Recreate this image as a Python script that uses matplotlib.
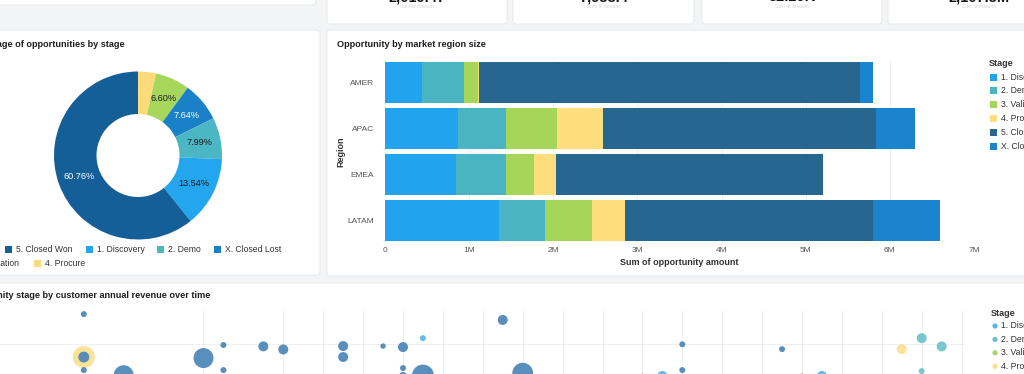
import numpy as np
import matplotlib.pyplot as plt
from matplotlib.patches import FancyBboxPatch, Rectangle, Circle

plt.rcParams['font.family'] = ['Liberation Sans', 'DejaVu Sans']

# ---- data ----
stages = ["1. Discovery", "2. Demo", "3. Validation", "4. Procure", "5. Closed Won", "X. Closed Lost"]

# share of opportunities by stage (%)
stage_share = np.array([13.54, 7.99, 6.60, 3.47, 60.76, 7.64])

# opportunity amount by region and stage ($M)
regions = ["AMER", "APAC", "EMEA", "LATAM"]
amt_discovery = [0.44, 0.87, 0.84, 1.35]
amt_demo = [0.495, 0.565, 0.595, 0.55]
amt_validation = [0.165, 0.615, 0.335, 0.555]
amt_procure = [0.02, 0.54, 0.26, 0.395]
amt_closed_won = [4.52, 3.24, 3.17, 2.95]
amt_closed_lost = [0.16, 0.47, 0.01, 0.79]

# bubbles: month index, customer annual revenue ($B), stage index, deal amount ($K)
bub_month = [2.0, 2.0, 2.0, 2.0, 3.0, 5.0, 5.5, 5.5, 6.5, 7.0, 8.5, 8.5, 9.5, 10.0, 10.0,
             10.0, 10.5, 10.5, 12.5, 13.0, 16.0, 16.5, 17.0, 17.0, 19.5, 20.0, 20.5, 22.5,
             23.0, 23.0, 23.5]
bub_revenue = [1.88, 0.63, 0.63, 0.25, 0.10, 0.60, 0.98, 0.25, 0.94, 0.85, 0.95, 0.63, 0.95,
               0.92, 0.31, 0.08, 1.18, 0.09, 1.71, 0.16, 0.06, 0.08, 1.00, 0.25, 0.86, 0.06,
               0.08, 0.86, 1.18, 0.22, 0.94]
bub_stage = [4, 3, 4, 4, 4, 4, 4, 4, 4, 4, 4, 4, 4, 4, 4, 4, 0, 4, 4, 4, 4, 0, 4, 4, 4, 5, 0,
             3, 1, 1, 1]
bub_amount = [90, 1210, 300, 90, 1000, 1000, 90, 90, 250, 250, 250, 250, 75, 250, 90, 160,
              90, 1210, 250, 1080, 90, 250, 90, 90, 90, 90, 250, 250, 250, 90, 250]

kpi_values = ["2,019.47", "7,938.4", "32.29K", "2,107.5M"]

# ---- styles ----
donut_colors = ["#23a6ee", "#4bb6c4", "#a6d65c", "#fcdc7a", "#155f98", "#1a80c8"]
bar_colors = ["#22a3ee", "#4ab4c3", "#a5d65a", "#fddd7e", "#27668f", "#1a84cf"]
dot_colors = ["#5ab3e6", "#6ec1c9", "#a9d46f", "#fae08f", "#4a86b8", "#1f5a8c"]
TXT = '#333333'

W, H = 1024, 374
fig = plt.figure(figsize=(W / 100, H / 100), dpi=100)
fig.patch.set_facecolor('#f3f4f6')

bg = fig.add_axes([0, 0, 1, 1])
bg.set_xlim(0, W)
bg.set_ylim(H, 0)
bg.axis('off')


def panel(x0, y0, x1, y1):
    bg.add_patch(FancyBboxPatch((x0, y0), x1 - x0, y1 - y0,
                                boxstyle='round,pad=0,rounding_size=3',
                                fc='white', ec='#e4e6ea', lw=0.6))


def px_axes(x0, y0, x1, y1):
    return fig.add_axes([x0 / W, 1 - y1 / H, (x1 - x0) / W, (y1 - y0) / H])


# panels
panel(-5, -10, 316, 5)
for x0, x1 in [(327, 507), (513, 694), (702, 882), (888, 1030)]:
    panel(x0, -10, x1, 24)
panel(-5, 30, 320, 275)
panel(327, 30, 1030, 276)
panel(-5, 283, 1030, 390)

# kpi cards (cut at the top)
for (x0, x1), val in zip([(327, 507), (513, 694), (702, 882), (888, 1070)], kpi_values):
    bg.text((x0 + x1) / 2, 1.2, val, ha='center', va='baseline', fontsize=10.5,
            fontweight='bold', color='#161616')
    bg.text((x0 + x1) / 2, 6.5, "Sum of Amount", ha='center', va='center', fontsize=3.5,
            color='#d4d6da')

# ---- donut ----
bg.text(125, 44, "Percentage of opportunities by stage", ha='right', va='center',
        fontsize=6.6, fontweight='bold', color='#1e1e1e')
ax_d = px_axes(54, 71.5, 222, 239.5)
order = np.argsort(stage_share)
wedges, texts, autotexts = ax_d.pie(
    stage_share[order], colors=[donut_colors[i] for i in order], startangle=90,
    counterclock=False, radius=1, pctdistance=0.747,
    autopct=lambda p: f'{p:.2f}%' if p > 5 else '',
    wedgeprops=dict(width=0.506, linewidth=0),
    textprops=dict(fontsize=6.6))
for i, t in zip(order, autotexts):
    t.set_color('white' if i in (4, 5) else '#1a1a1a')
ax_d.set_xlim(-1, 1)
ax_d.set_ylim(-1, 1)
ax_d.set_aspect('equal')

desc = np.argsort(-stage_share)
leg_pos = [(16, 249), (97, 249), (168, 249), (225, 249), (None, 263), (45, 263)]
for i, (lx, ly) in zip(desc, leg_pos):
    if lx is None:
        bg.text(19, ly, stages[i], ha='right', va='center', fontsize=6.2, color=TXT)
        continue
    bg.add_patch(Rectangle((lx - 11, ly - 3.5), 7, 7, fc=donut_colors[i], ec='none'))
    bg.text(lx, ly, stages[i], ha='left', va='center', fontsize=6.2, color=TXT)

# ---- stacked bars ----
bg.text(337, 44, "Opportunity by market region size", ha='left', va='center',
        fontsize=6.6, fontweight='bold', color='#1e1e1e')
ax_b = px_axes(385, 60, 974, 243)
series = [amt_discovery, amt_demo, amt_validation, amt_procure, amt_closed_won, amt_closed_lost]
ypos = np.arange(len(regions))
left = np.zeros(len(regions))
for vals, col in zip(series, bar_colors):
    v = np.array(vals) * 1e6
    ax_b.barh(ypos, v, left=left, height=0.9, color=col, zorder=2)
    left += v
ax_b.set_xlim(0, 7e6)
ax_b.set_ylim(3.5, -0.5)
ax_b.set_xticks(np.arange(0, 8) * 1e6)
ax_b.set_xticklabels(["0"] + [f"{k}M" for k in range(1, 8)])
ax_b.set_yticks(ypos)
ax_b.set_yticklabels(regions)
ax_b.tick_params(length=0, labelsize=6, labelcolor='#555555')
ax_b.tick_params(axis='x', pad=3)
ax_b.tick_params(axis='y', pad=8)
ax_b.grid(axis='x', color='#ececec', lw=0.6, zorder=0)
for s in ax_b.spines.values():
    s.set_visible(False)
ax_b.set_xlabel("Sum of opportunity amount", fontsize=6.5, fontweight='bold', color=TXT,
                labelpad=3)
ax_b.set_ylabel("Region", fontsize=6.5, fontweight='bold', color=TXT, labelpad=1)

bg.text(989, 63, "Stage", ha='left', va='center', fontsize=6.5, fontweight='bold', color=TXT)
for i, name in enumerate(stages):
    y = 77 + 13.9 * i
    bg.add_patch(Rectangle((990, y - 3.5), 7, 7, fc=bar_colors[i], ec='none'))
    bg.text(1001, y, name, ha='left', va='center', fontsize=6.2, color=TXT)

# ---- bubbles ----
bg.text(210, 295, "Opportunity stage by customer annual revenue over time", ha='right',
        va='center', fontsize=6.6, fontweight='bold', color='#1e1e1e')
ax_s = px_axes(0, 310, 964, 413)
amt = np.array(bub_amount, dtype=float)
idx = np.argsort(-amt)
ax_s.scatter(np.array(bub_month)[idx], np.array(bub_revenue)[idx],
             s=amt[idx] / 10 * 2.07,
             c=[dot_colors[bub_stage[k]] for k in idx], alpha=0.92, lw=0, zorder=3)
ax_s.set_xlim(-0.1, 24.06)
ax_s.set_ylim(-1, 2)
ax_s.set_xticks([5] + list(range(7, 25)))
ax_s.set_yticks([0, 1])
ax_s.tick_params(length=0, labelbottom=False, labelleft=False)
ax_s.grid(color='#ececec', lw=0.6, zorder=0)
ax_s.patch.set_alpha(0)
for s in ax_s.spines.values():
    s.set_visible(False)

bg.text(991, 313, "Stage", ha='left', va='center', fontsize=6.5, fontweight='bold', color=TXT)
for i, name in enumerate(stages):
    y = 326 + 13.4 * i
    bg.add_patch(Circle((995, y), 2.6, fc=dot_colors[i], ec='none'))
    bg.text(1001, y, name, ha='left', va='center', fontsize=6.2, color=TXT)

fig.savefig('out.png', dpi=100, facecolor=fig.get_facecolor())
